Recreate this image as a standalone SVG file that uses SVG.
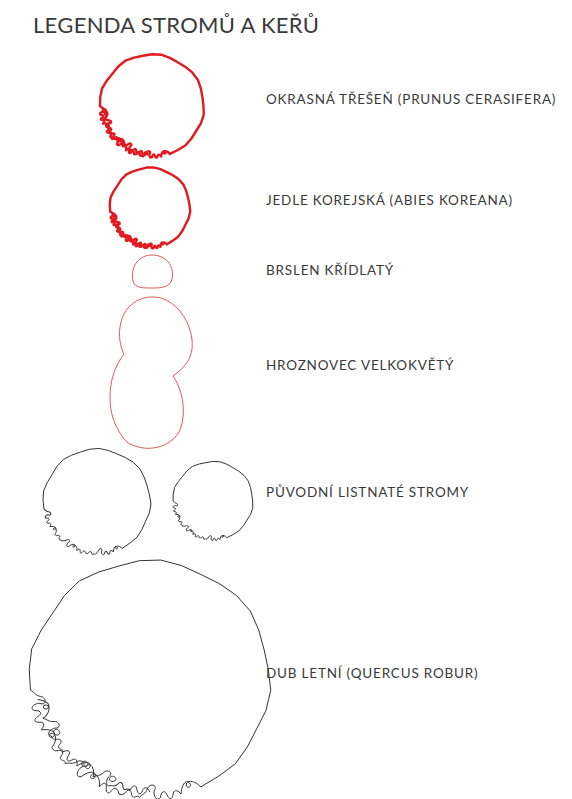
<svg xmlns="http://www.w3.org/2000/svg" xmlns:xlink="http://www.w3.org/1999/xlink" width="572" height="799" viewBox="0 0 572 799">
<defs>
<path id="m1" vector-effect="non-scaling-stroke" d="M-100,0 L-99.5,-17.5 L-95.9,-34.9 L-86.6,-50 L-75.8,-63.6 L-64.9,-77.4 L-51.3,-88.8 L-34.5,-94.9 L-17.4,-98.5 L0,-101.5 L17.7,-100.5 L34.4,-94.4 L49.5,-85.7 L64.3,-76.6 L77.8,-65.3 L88.3,-51 L94,-34.2 L97,-17.1 L99,0 L99.5,17.5 L94,34.2 L84.9,49 L75.8,63.7 L64.6,77 L49.8,86.2 L34.2,94"/>
<path id="sA" vector-effect="non-scaling-stroke" d="M-8.72,-99.62 C-5,-104 -2,-96 -4,-93 C-6,-89 0,-87 2,-92 C4,-97 6,-96 8.72,-99.62"/>
<path id="sB" vector-effect="non-scaling-stroke" d="M-8.72,-99.62 C-6,-95 -3,-95 -2,-99 C-1,-103 2,-103 3,-98 C4,-94 7,-94 8.72,-99.62"/>
<path id="sC" vector-effect="non-scaling-stroke" d="M-8.72,-99.62 C-6,-92 1,-90 2,-94 C3,-98 -3,-97 -1,-93 C1,-89 6,-93 8.72,-99.62"/>
<path id="sD" vector-effect="non-scaling-stroke" d="M-8.72,-99.62 C-7,-97 -5,-101 -3,-100 C-1,-99 -2,-95 1,-95 C4,-95 3,-101 8.72,-99.62"/>
<path id="iA" vector-effect="non-scaling-stroke" d="M-2,-90 C0,-93 4,-92 3,-89 C2,-86 -3,-87 -2,-90 Z"/>
<g id="sq">
<use href="#sA" transform="rotate(265)"/>
<use href="#sB" transform="rotate(255)"/>
<use href="#sC" transform="rotate(245)"/>
<use href="#sD" transform="rotate(235)"/>
<use href="#sA" transform="rotate(225)"/>
<use href="#sC" transform="rotate(215)"/>
<use href="#sB" transform="rotate(205)"/>
<use href="#sD" transform="rotate(195)"/>
<use href="#sA" transform="rotate(185)"/>
<use href="#sB" transform="rotate(175)"/>
<use href="#sC" transform="rotate(165)"/>
</g>
<g id="sq2">
<use href="#sC" transform="scale(0.95) rotate(260)"/>
<use href="#sA" transform="scale(0.95) rotate(250)"/>
<use href="#sD" transform="scale(0.95) rotate(240)"/>
<use href="#sB" transform="scale(0.95) rotate(230)"/>
<use href="#sC" transform="scale(0.95) rotate(220)"/>
<use href="#sA" transform="scale(0.95) rotate(210)"/>
<use href="#sD" transform="scale(0.95) rotate(200)"/>
<use href="#sB" transform="scale(0.95) rotate(190)"/>
</g>
<g id="shape">
<use href="#m1"/>
<use href="#sq"/>
</g>
</defs>
<style>
.t{font-family:Lato,"Liberation Sans",sans-serif;fill:#3a3a3a}
.lbl{font-size:13.5px;letter-spacing:0.8px}
.red{fill:none;stroke:#e3191f;stroke-width:2.4;stroke-linejoin:round;stroke-linecap:round}
.lred{fill:none;stroke:#e05a5a;stroke-width:1}
.blk{fill:none;stroke:#333;stroke-width:1;stroke-linejoin:round}
</style>
<rect width="572" height="799" fill="#fff"/>
<text class="t" x="33" y="33" font-size="22" letter-spacing="0.3">LEGENDA STROMŮ A KEŘŮ</text>

<g id="okrasna-tresen">
<g class="red" transform="translate(152,106) scale(0.52,0.51)">
<use href="#shape"/>
<use href="#sq2"/>
</g>
<text class="t lbl" x="266" y="104">OKRASNÁ TŘEŠEŇ (PRUNUS CERASIFERA)</text>
</g>

<g id="jedle-korejska">
<g class="red" transform="translate(150,208) scale(0.40,0.40) rotate(-5)">
<use href="#shape"/>
<use href="#sq2"/>
</g>
<text class="t lbl" x="266" y="205">JEDLE KOREJSKÁ (ABIES KOREANA)</text>
</g>

<g id="brslen">
<path class="lred" d="M133 281 C130 265 140 255 152 255 C165 255 175 265 172 279 C170 288 160 288 152 288 C142 288 135 288 133 281 Z"/>
<text class="t lbl" x="266" y="275">BRSLEN KŘÍDLATÝ</text>
</g>

<g id="hroznovec">
<path class="lred" d="M152 297 C172 296 190 318 192 340 C194 358 184 368 173 376 C184 392 186 415 180 430 C172 446 152 452 135 446 C128 444 124 440 122 436 C114 425 110 412 110 398 C110 380 115 366 124 354 C117 340 118 320 128 308 C135 300 144 297 152 297 Z"/>
<text class="t lbl" x="266" y="370">HROZNOVEC VELKOKVĚTÝ</text>
</g>

<g id="puvodni-listnate">
<g class="blk" transform="translate(97,502) scale(0.535,0.525) rotate(-8)">
<use href="#shape"/>
</g>
<g class="blk" transform="translate(213,501) scale(0.40,0.39)">
<use href="#shape"/>
</g>
<text class="t lbl" x="266" y="497">PŮVODNÍ LISTNATÉ STROMY</text>
</g>

<g id="dub-letni">
<g class="blk" transform="translate(150,680) scale(1.2,1.18) rotate(-5)">
<use href="#shape"/>
<use href="#sq2"/>
<use href="#iA" transform="rotate(245)"/>
<use href="#iA" transform="rotate(222)"/>
<use href="#iA" transform="rotate(205)"/>
</g>
<text class="t lbl" x="266" y="678">DUB LETNÍ (QUERCUS ROBUR)</text>
</g>
</svg>
